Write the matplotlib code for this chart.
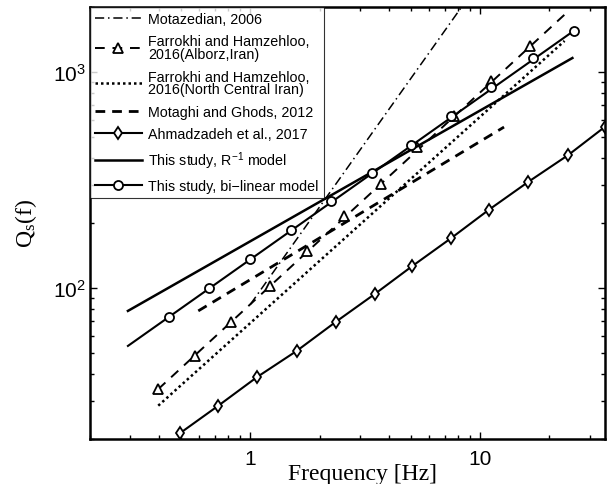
import numpy as np
import matplotlib
matplotlib.use("Agg")
from matplotlib import pyplot as plt
from matplotlib.ticker import NullFormatter, FixedLocator, FixedFormatter

# values (frequency in Hz, Qs)
motazedian_f = [1.0, 8.3]
motazedian_q = [84, 2000]

alborz_line_f = [0.397, 23.7]
alborz_line_q = [34.0, 1875]
alborz_f = [0.397, 0.575, 0.826, 1.22, 1.77, 2.55, 3.70, 5.31, 7.70, 11.2, 16.4]
alborz_q = [34.0, 48.4, 69.6, 102, 148, 215, 303, 449, 626, 908, 1318]

ncentral_f = [0.397, 23.3]
ncentral_q = [28.5, 1393]

motaghi_f = [0.593, 12.7]
motaghi_q = [78.3, 556]

ahmad_f = [0.495, 0.725, 1.07, 1.59, 2.35, 3.48, 5.05, 7.47, 10.9, 16.2, 24.2, 34.8]
ahmad_q = [21.3, 28.5, 38.7, 51.1, 69.6, 93.8, 126, 170, 230, 310, 413, 556]

rinv_f = [0.293, 25.2]
rinv_q = [78.3, 1161]

bilin_line_f = [0.293, 25.5]
bilin_line_q = [53.9, 1549]
bilin_f = [0.443, 0.662, 1.0, 1.50, 2.24, 3.38, 5.0, 7.47, 11.2, 16.9, 25.5]
bilin_q = [73.5, 100, 136, 186, 253, 340, 459, 625, 853, 1161, 1549]

labels = ["Motazedian, 2006",
          "Farrokhi and Hamzehloo,\n2016(Alborz,Iran)",
          "Farrokhi and Hamzehloo,\n2016(North Central Iran)",
          "Motaghi and Ghods, 2012",
          "Ahmadzadeh et al., 2017",
          "This study, R$^{-1}$ model",
          "This study, bi\u2212linear model"]

plt.rcParams['font.family'] = ['Liberation Sans', 'DejaVu Sans']
plt.rcParams['mathtext.fontset'] = 'custom'
plt.rcParams['mathtext.rm'] = 'Liberation Sans'
plt.rcParams['mathtext.it'] = 'Liberation Sans'

fig = plt.figure(figsize=(6.07, 4.85), dpi=100)
ax = fig.add_axes([0.148, 0.093, 0.849, 0.8905])

mk = dict(ls='none', mfc='white', mec='black', mew=1.3)

h1, = ax.plot(motazedian_f, motazedian_q, color='black', ls=(0, (6, 2.5, 1, 2.5)), lw=1.1)

l2, = ax.plot(alborz_line_f, alborz_line_q, color='black', ls=(0, (5, 4)), lw=1.4)
m2, = ax.plot(alborz_f, alborz_q, marker='^', ms=6.5, **mk)

h3, = ax.plot(ncentral_f, ncentral_q, color='black', ls=(0, (1, 1.2)), lw=1.8)

h4, = ax.plot(motaghi_f, motaghi_q, color='black', ls=(0, (3.5, 2.5)), lw=2.0)

l5, = ax.plot(ahmad_f, ahmad_q, color='black', ls='-', lw=1.5)
m5, = ax.plot(ahmad_f, ahmad_q, marker='d', ms=6.3, **mk)

h6, = ax.plot(rinv_f, rinv_q, color='black', ls='-', lw=1.8)

l7, = ax.plot(bilin_line_f, bilin_line_q, color='black', ls='-', lw=1.5)
m7, = ax.plot(bilin_f, bilin_q, marker='o', ms=6.5, **mk)

ax.set_xscale('log')
ax.set_yscale('log')
ax.set_xlim(0.2, 35)
ax.set_ylim(20, 2000)

ax.xaxis.set_minor_formatter(NullFormatter())
ax.yaxis.set_minor_formatter(NullFormatter())
ax.xaxis.set_major_locator(FixedLocator([1, 10]))
ax.xaxis.set_major_formatter(FixedFormatter(['1', '10']))
ax.yaxis.set_major_locator(FixedLocator([100, 1000]))
ax.yaxis.set_major_formatter(FixedFormatter(['$10^2$', '$10^3$']))

ax.tick_params(which='both', direction='in', top=True, right=True, labelsize=15)
ax.tick_params(which='major', length=5, width=1)
ax.tick_params(which='minor', length=3, width=1)
ax.tick_params(axis='x', pad=7)
ax.tick_params(axis='y', pad=3)
for s in ax.spines.values():
    s.set_linewidth(1.8)

ax.set_xlabel("Frequency [Hz]", family='Liberation Serif', fontsize=17, va='top')
ax.xaxis.set_label_coords(0.53, -0.056)
ax.set_ylabel("Q$_\\mathregular{s}$(f)", family='Liberation Serif', fontsize=17)
ax.yaxis.set_label_coords(-0.098, 0.5)

leg = ax.legend([h1, (l2, m2), h3, h4, (l5, m5), h6, (l7, m7)], labels,
                loc='upper left', fontsize=10.3, frameon=True, fancybox=False,
                edgecolor='black', borderaxespad=0, handlelength=3.3,
                handletextpad=0.45, labelspacing=0.58, borderpad=0.35)
leg.get_frame().set_linewidth(0.8)
for t in leg.get_texts():
    t.set_linespacing(0.9)

fig.savefig("out.png", dpi=100)
